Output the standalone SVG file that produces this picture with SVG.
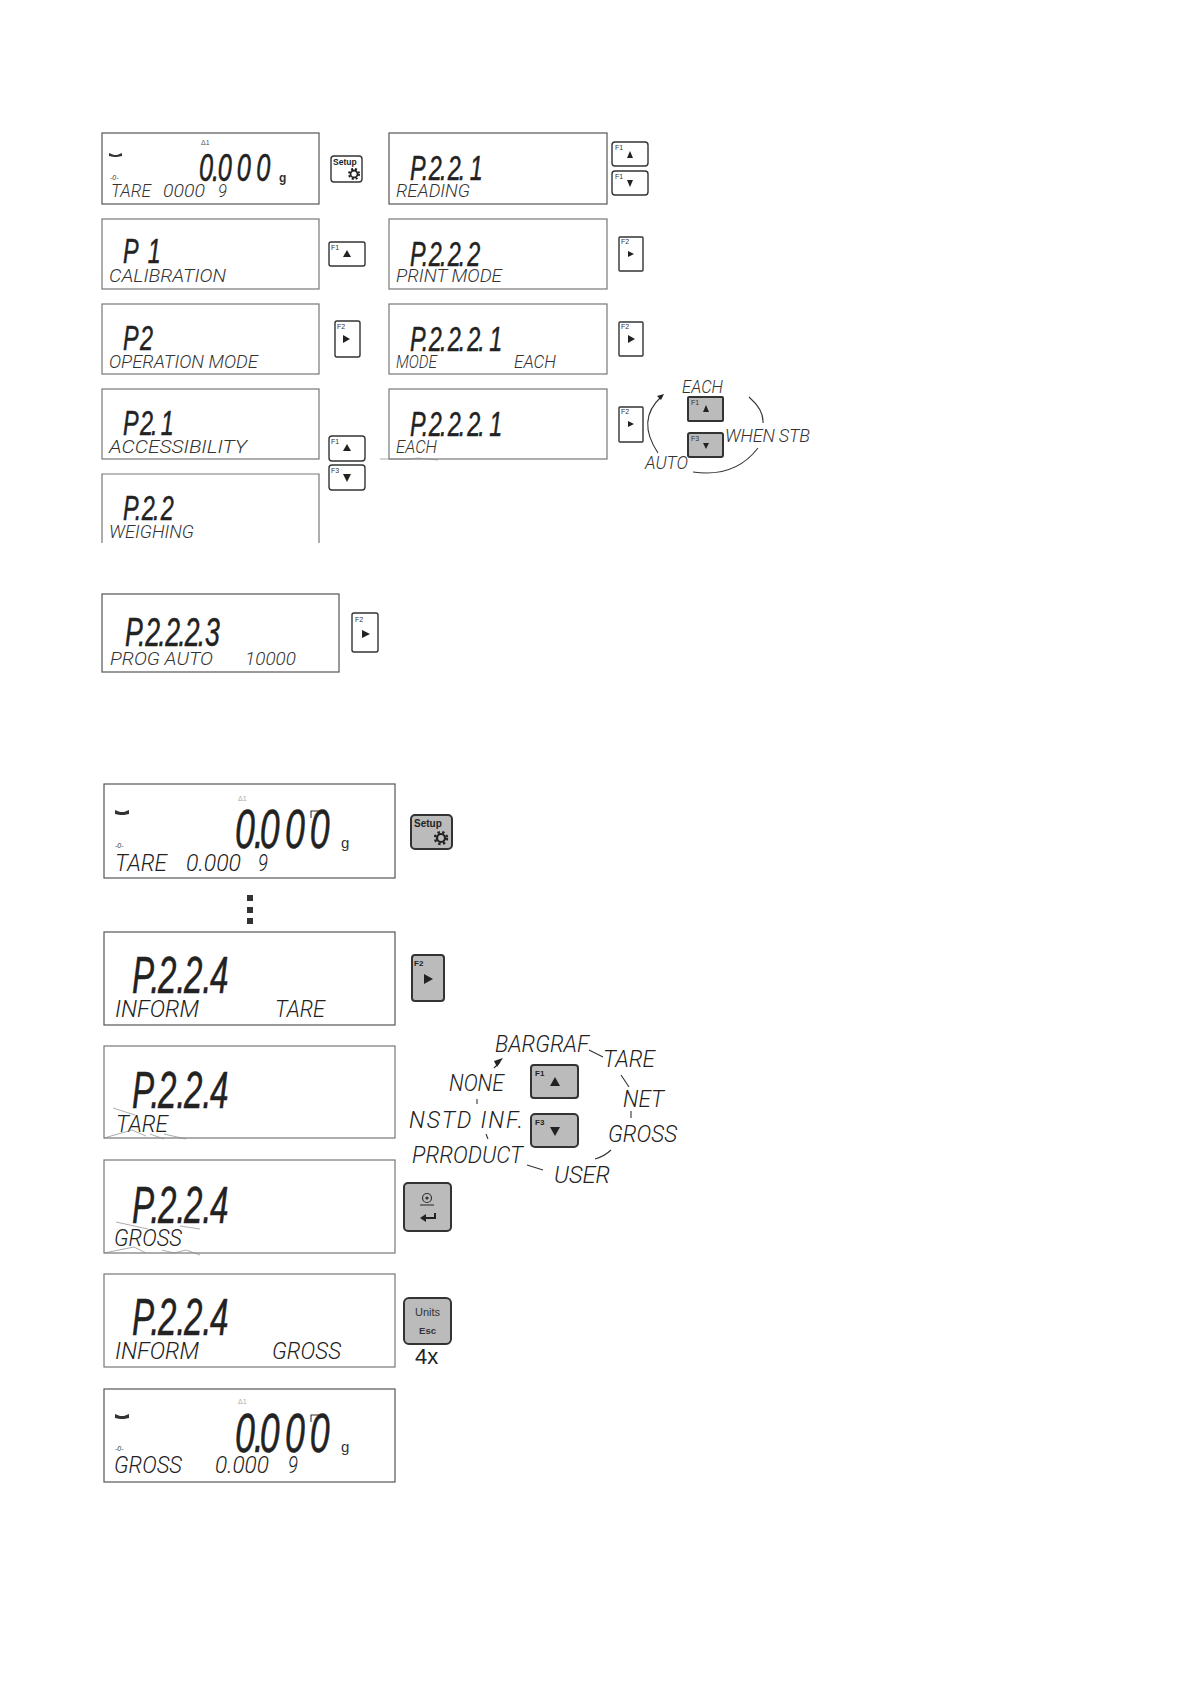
<svg xmlns="http://www.w3.org/2000/svg" width="1191" height="1684" viewBox="0 0 1191 1684">
<style>
text{font-family:"Liberation Sans",Arial,sans-serif}
.d{fill:#fff;stroke:#777;stroke-width:1.2}
.dk{fill:#fff;stroke:#555;stroke-width:1.2}
.big{font-style:italic;fill:#222;stroke:#222;stroke-width:.5}
.s{font-family:Roboto,"Liberation Sans",sans-serif;font-weight:300;font-style:italic;fill:#333;font-size:18px}
.m{font-family:Roboto,"Liberation Sans",sans-serif;font-weight:300;font-style:italic;fill:#222;font-size:23px}
.k{fill:#fff;stroke:#333;stroke-width:1.4}
.g{fill:#bbb;stroke:#333;stroke-width:2}
.kt{font-size:7px;fill:#333}
.tri{fill:#222}
.c{fill:none;stroke:#333;stroke-width:1.1}
.sp{fill:none;stroke:#888;stroke-width:.7}
.ic{fill:#333}
.ti{font-size:7px;font-style:italic;fill:#333}
.tl{font-size:7px;fill:#aaa}
</style>
<rect width="1191" height="1684" fill="#fff"/>

<g id="d-tare-top"><rect class="dk" x="102" y="133" width="217" height="71"/>
<path class="ic" d="M109 153l5 2h3l5-2v3l-5 1h-3l-5-1z"/><text class="ti" x="110" y="180">-0-</text><text x="201" y="145" font-size="7" fill="#555">Δ1</text>
<text class="big" transform="translate(199 181) scale(.65 1)" font-size="39" x="0 20 29 58 88">0.000</text><text x="279" y="182" font-size="12" font-weight="bold" fill="#333">g</text>
<text class="s" x="111" y="197" textLength="40" lengthAdjust="spacingAndGlyphs">TARE</text><text class="s" x="163" y="197" textLength="42" lengthAdjust="spacingAndGlyphs">0000</text><text class="s" x="218" y="197" textLength="9" lengthAdjust="spacingAndGlyphs">9</text></g>
<g id="d-p1"><rect class="d" x="102" y="219" width="217" height="70"/><text class="big" transform="translate(123 263) scale(.65 1)" font-size="36" x="0 38">P1</text><text class="s" x="109" y="282" textLength="117" lengthAdjust="spacingAndGlyphs">CALIBRATION</text></g>
<g id="d-p2"><rect class="d" x="102" y="304" width="217" height="70"/><text class="big" transform="translate(123 350) scale(.65 1)" font-size="36" x="0 26">P2</text><text class="s" x="109" y="368" textLength="149" lengthAdjust="spacingAndGlyphs">OPERATION MODE</text></g>
<g id="d-p21"><rect class="d" x="102" y="389" width="217" height="70"/><text class="big" transform="translate(123 435) scale(.65 1)" font-size="36" x="0 26 43 58">P2.1</text><text class="s" x="109" y="453" textLength="138" lengthAdjust="spacingAndGlyphs">ACCESSIBILITY</text></g>
<g id="d-p22"><path class="d" d="M102 543V474H319V543"/><text class="big" transform="translate(123 520) scale(.65 1)" font-size="36" x="0 18 29 46 58">P.2.2</text><text class="s" x="109" y="538" textLength="85" lengthAdjust="spacingAndGlyphs">WEIGHING</text></g>
<g id="d-p2223"><rect class="dk" x="102" y="594" width="237" height="78"/><text class="big" transform="translate(125 646) scale(.65 1)" font-size="41" x="0 20 31 51 62 82 92 112 123">P.2.2.2.3</text><text class="s" x="110" y="665" textLength="103" lengthAdjust="spacingAndGlyphs">PROG AUTO</text><text class="s" x="245" y="665" textLength="51" lengthAdjust="spacingAndGlyphs">10000</text></g>

<g id="d-p221"><rect class="dk" x="389" y="133" width="218" height="71"/><text class="big" transform="translate(410 180) scale(.65 1)" font-size="36" x="0 18 29 46 58 75 92">P.2.2.1</text><text class="s" x="396" y="197" textLength="74" lengthAdjust="spacingAndGlyphs">READING</text></g>
<g id="d-p222"><rect class="d" x="389" y="219" width="218" height="70"/><text class="big" transform="translate(410 266) scale(.65 1)" font-size="36" x="0 18 29 46 58 75 88">P.2.2.2</text><text class="s" x="396" y="282" textLength="106" lengthAdjust="spacingAndGlyphs">PRINT MODE</text></g>
<g id="d-p2221a"><rect class="d" x="389" y="304" width="218" height="70"/><text class="big" transform="translate(410 351) scale(.65 1)" font-size="36" x="0 18 29 46 58 75 88 105 122">P.2.2.2.1</text><text class="s" x="396" y="368" textLength="41" lengthAdjust="spacingAndGlyphs">MODE</text><text class="s" x="514" y="368" textLength="42" lengthAdjust="spacingAndGlyphs">EACH</text></g>
<g id="d-p2221b"><rect class="d" x="389" y="389" width="218" height="70"/><text class="big" transform="translate(410 436) scale(.65 1)" font-size="36" x="0 18 29 46 58 75 88 105 122">P.2.2.2.1</text><text class="s" x="396" y="453" textLength="41" lengthAdjust="spacingAndGlyphs">EACH</text><path class="sp" d="M380 459h30l8-1 20 2"/></g>

<g id="k-setup1"><rect class="k" x="331" y="156" width="31" height="26" rx="3"/><text x="333" y="165" font-size="8.500" font-weight="bold" fill="#222">Setup</text><circle cx="354" cy="174" r="3.500" fill="none" stroke="#222" stroke-width="1.800"/><circle cx="354" cy="174" r="5" fill="none" stroke="#222" stroke-width="2" stroke-dasharray="2 2"/></g>
<g id="k-f1a"><rect class="k" x="329" y="242" width="36" height="24" rx="2"/><text class="kt" x="331" y="250">F1</text><path class="tri" d="M347 250l4 7h-8z"/></g>
<g id="k-f2a"><rect class="k" x="335" y="321" width="25" height="36" rx="2"/><text class="kt" x="337" y="329">F2</text><path class="tri" d="M343 335l7 4-7 4z"/></g>
<g id="k-f1b"><rect class="k" x="329" y="436" width="36" height="25" rx="3"/><text class="kt" x="331" y="444">F1</text><path class="tri" d="M347 444l4 7h-8z"/></g>
<g id="k-f3b"><rect class="k" x="329" y="465" width="36" height="25" rx="3"/><text class="kt" x="331" y="473">F3</text><path class="tri" d="M343 474h8l-4 8z"/></g>
<g id="k-f2b"><rect class="k" x="352" y="613" width="26" height="39" rx="2"/><text class="kt" x="355" y="622">F2</text><path class="tri" d="M362 630l8 4-8 4z"/></g>
<g id="k-f1c"><rect class="k" x="612" y="142" width="36" height="24" rx="3"/><text class="kt" x="615" y="150">F1</text><path class="tri" d="M630 151l3 7h-6z"/></g>
<g id="k-f3c"><rect class="k" x="612" y="171" width="36" height="24" rx="3"/><text class="kt" x="615" y="179">F1</text><path class="tri" d="M627 180h6l-3 7z"/></g>
<g id="k-f2c"><rect class="k" x="619" y="237" width="24" height="34" rx="1"/><text class="kt" x="621" y="244">F2</text><path class="tri" d="M628 251l6 3-6 3z"/></g>
<g id="k-f2d"><rect class="k" x="619" y="322" width="24" height="34" rx="1"/><text class="kt" x="621" y="329">F2</text><path class="tri" d="M628 335l7 4-7 4z"/></g>
<g id="k-f2e"><rect class="k" x="619" y="407" width="24" height="35" rx="1"/><text class="kt" x="621" y="414">F2</text><path class="tri" d="M628 421l6 3-6 3z"/></g>
<g id="k-f1d"><rect class="g" x="688" y="397" width="35" height="24" rx="1"/><text class="kt" x="691" y="405">F1</text><path class="tri" d="M706 405l3 7h-6z"/></g>
<g id="k-f3d"><rect class="g" x="688" y="433" width="35" height="24" rx="2"/><text class="kt" x="691" y="441">F3</text><path class="tri" d="M703 443h6l-3 6z"/></g>

<g id="l-each"><text class="s" x="682" y="393" textLength="41" lengthAdjust="spacingAndGlyphs">EACH</text></g>
<g id="l-when"><text class="s" x="725" y="442" textLength="85" lengthAdjust="spacing">WHEN STB</text></g>
<g id="l-auto"><text class="s" x="645" y="469" textLength="43" lengthAdjust="spacingAndGlyphs">AUTO</text></g>

<g id="d-tare-bot"><rect class="dk" x="104" y="784" width="291" height="94"/>
<path class="ic" d="M115 810l5 2h4l5-2v4l-5 1h-4l-5-1z"/><text class="ti" x="115" y="848" font-size="8">-0-</text><text x="238" y="801" class="tl">Δ1</text>
<path class="c" d="M311 818v-7h7"/><text class="big" transform="translate(235 848) scale(.65 1)" font-size="55" x="0 29 38 77 115">0.000</text><text x="341" y="848" font-size="15" fill="#333">g</text>
<text class="m" x="115" y="871" textLength="52" lengthAdjust="spacingAndGlyphs">TARE</text><text class="m" x="186" y="871" textLength="55" lengthAdjust="spacingAndGlyphs">0.000</text><text class="m" x="258" y="871" textLength="10" lengthAdjust="spacingAndGlyphs">9</text></g>
<g id="d-p224a"><rect class="dk" x="104" y="932" width="291" height="93"/><text class="big" transform="translate(132 993) scale(.65 1)" font-size="51" x="0 28 40 68 80 108 120">P.2.2.4</text><text class="m" x="115" y="1017" textLength="84" lengthAdjust="spacingAndGlyphs">INFORM</text><text class="m" x="275" y="1017" textLength="50" lengthAdjust="spacingAndGlyphs">TARE</text></g>
<g id="d-p224b"><rect class="d" x="104" y="1046" width="291" height="92"/><text class="big" transform="translate(132 1108) scale(.65 1)" font-size="51" x="0 28 40 68 80 108 120">P.2.2.4</text><text class="m" x="116" y="1132" textLength="52" lengthAdjust="spacingAndGlyphs">TARE</text><path class="sp" d="M113 1108l22 7M104 1138l28-8 14 6M150 1134l14 5M164 1134l22 5"/></g>
<g id="d-p224c"><rect class="d" x="104" y="1160" width="291" height="93"/><text class="big" transform="translate(132 1223) scale(.65 1)" font-size="51" x="0 28 40 68 80 108 120">P.2.2.4</text><text class="m" x="114" y="1246" textLength="68" lengthAdjust="spacingAndGlyphs">GROSS</text><path class="sp" d="M116 1222l32 7M104 1253l30-6 12 6M162 1250l12 3 12-3 14 5M180 1226l20 3"/></g>
<g id="d-p224d"><rect class="d" x="104" y="1274" width="291" height="93"/><text class="big" transform="translate(132 1335) scale(.65 1)" font-size="51" x="0 28 40 68 80 108 120">P.2.2.4</text><text class="m" x="115" y="1359" textLength="84" lengthAdjust="spacingAndGlyphs">INFORM</text><text class="m" x="272" y="1359" textLength="69" lengthAdjust="spacingAndGlyphs">GROSS</text></g>
<g id="d-gross"><rect class="dk" x="104" y="1389" width="291" height="93"/>
<path class="ic" d="M115 1414l5 2h4l5-2v4l-5 1h-4l-5-1z"/><text class="ti" x="115" y="1451" font-size="8">-0-</text><text x="238" y="1404" class="tl">Δ1</text>
<path class="c" d="M311 1422v-7h7"/><text class="big" transform="translate(235 1452) scale(.65 1)" font-size="55" x="0 29 38 77 115">0.000</text><text x="341" y="1452" font-size="15" fill="#333">g</text>
<text class="m" x="114" y="1473" textLength="68" lengthAdjust="spacingAndGlyphs">GROSS</text><text class="m" x="215" y="1473" textLength="54" lengthAdjust="spacingAndGlyphs">0.000</text><text class="m" x="288" y="1473" textLength="10" lengthAdjust="spacingAndGlyphs">9</text></g>

<g id="dots" fill="#333"><rect x="247" y="895" width="6" height="6"/><rect x="247" y="907" width="6" height="6"/><rect x="247" y="918" width="6" height="6"/></g>

<g id="k-setup2"><rect class="g" x="411" y="815" width="41" height="34" rx="4"/><text x="414" y="827" font-size="10" font-weight="bold" fill="#222">Setup</text><circle cx="441" cy="838" r="4" fill="none" stroke="#222" stroke-width="2.200"/><circle cx="441" cy="838" r="6" fill="none" stroke="#222" stroke-width="2.400" stroke-dasharray="2.400 2.400"/></g>
<g id="k-f2f"><rect class="g" x="412" y="955" width="32" height="46" rx="3"/><text x="414" y="966" font-size="8" font-weight="bold" fill="#222">F2</text><path class="tri" d="M424 974l9 5-9 5z"/></g>
<g id="k-f1g"><rect class="g" x="531" y="1065" width="47" height="33" rx="3"/><text x="535" y="1076" font-size="8" font-weight="bold" fill="#222">F1</text><path class="tri" d="M555 1077l5 9h-10z"/></g>
<g id="k-f3g"><rect class="g" x="531" y="1114" width="47" height="33" rx="4"/><text x="535" y="1125" font-size="8" font-weight="bold" fill="#222">F3</text><path class="tri" d="M550 1127h10l-5 9z"/></g>
<g id="k-enter"><rect class="g" x="404" y="1183" width="47" height="48" rx="4"/><circle cx="427" cy="1198" r="4.500" fill="none" stroke="#333" stroke-width="1.200"/><circle cx="427" cy="1198" r="1.600" fill="#333"/><path class="c" d="M420 1205h14"/><path d="M435 1213v5h-11" fill="none" stroke="#222" stroke-width="2"/><path class="tri" d="M420 1218l6-4v8z"/></g>
<g id="k-units"><rect class="g" x="404" y="1298" width="47" height="46" rx="5"/><text x="427.500" y="1316" font-size="11" text-anchor="middle" fill="#333">Units</text><text x="427.500" y="1334" font-size="9.500" font-weight="bold" text-anchor="middle" fill="#333">Esc</text></g>
<g id="l-4x"><text x="415" y="1364" font-size="22" fill="#222">4x</text></g>

<g id="r-bargraf"><text class="m" x="495" y="1052" textLength="94" lengthAdjust="spacingAndGlyphs">BARGRAF</text></g>
<g id="r-tare"><text class="m" x="603" y="1067" textLength="52" lengthAdjust="spacingAndGlyphs">TARE</text></g>
<g id="r-net"><text class="m" x="623" y="1107" textLength="41" lengthAdjust="spacingAndGlyphs">NET</text></g>
<g id="r-gross"><text class="m" x="608" y="1142" textLength="69" lengthAdjust="spacingAndGlyphs">GROSS</text></g>
<g id="r-user"><text class="m" x="554" y="1183" textLength="56" lengthAdjust="spacingAndGlyphs">USER</text></g>
<g id="r-product"><text class="m" x="412" y="1163" textLength="111" lengthAdjust="spacingAndGlyphs">PRRODUCT</text></g>
<g id="r-nstd"><text class="m" x="409" y="1128" textLength="114" lengthAdjust="spacing">NSTD INF.</text></g>
<g id="r-none"><text class="m" x="449" y="1091" textLength="55" lengthAdjust="spacingAndGlyphs">NONE</text></g>

<g id="connectors">
<path class="c" d="M658 453Q636 420 661 397"/><path class="tri" d="M664 394l-7 2 4 4z"/>
<path class="c" d="M749 397Q764 410 763 423"/>
<path class="c" d="M693 472Q735 478 758 448"/>
<path class="c" d="M589 1050l14 7"/><path class="c" d="M621 1075l8 12"/><path class="c" d="M631 1111v7"/><path class="c" d="M595 1159q10-3 16-9"/><path class="c" d="M527 1165l16 5"/><path class="c" d="M486 1134l2 5"/><path class="c" d="M477 1099v5"/>
<path class="c" d="M494 1068l6-6"/><path class="tri" d="M503 1058l-9 3 3 6z"/>
</g>
</svg>
